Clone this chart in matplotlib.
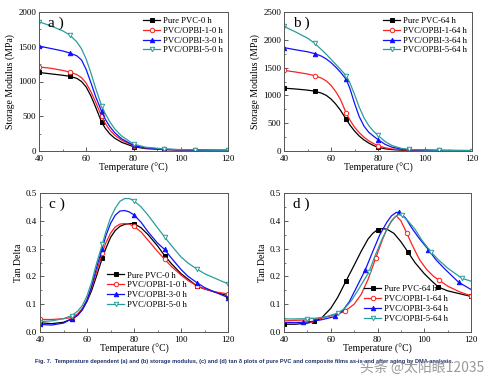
import matplotlib
matplotlib.use("Agg")
import matplotlib.pyplot as plt
from matplotlib.ticker import MultipleLocator

plt.rcParams['font.family'] = ['Liberation Serif', 'DejaVu Serif']
plt.rcParams['mathtext.fontset'] = 'stix'

# ---------------- data ----------------
# Panel a: storage modulus, 0 h
T_a = [40, 45, 50, 53, 56, 58, 60, 62, 64, 66.5, 68, 70, 72, 75, 80, 85, 93, 100, 106, 113, 120]
a_pure = [1130, 1110, 1090, 1075, 1045, 1000, 920, 790, 630, 415, 330, 245, 185, 125, 62, 35, 20, 14, 11, 9, 8]
a_1 = [1210, 1190, 1160, 1135, 1100, 1055, 975, 850, 700, 500, 400, 300, 230, 155, 75, 42, 24, 16, 12, 10, 9]
a_3 = [1510, 1475, 1440, 1410, 1370, 1310, 1170, 980, 780, 570, 460, 350, 265, 175, 82, 45, 25, 17, 13, 10, 9]
a_5 = [1860, 1800, 1730, 1670, 1570, 1470, 1320, 1120, 900, 650, 540, 420, 320, 215, 100, 55, 30, 20, 15, 12, 10]
a_mark_T = [40, 53, 66.5, 80, 93, 106, 120]

# Panel b: storage modulus, 64 h
T_b = [40, 45, 50, 53, 56, 58, 60, 62, 64, 66.5, 68, 70, 72, 74, 76, 78, 80, 83, 86, 90, 93, 100, 106, 113, 120]
b_pure = [1130, 1115, 1095, 1076, 1040, 1000, 935, 845, 735, 568, 470, 360, 270, 200, 145, 100, 66, 40, 25, 15, 12, 8, 6, 5, 5]
b_1 = [1450, 1420, 1385, 1355, 1310, 1260, 1180, 1070, 930, 680, 560, 430, 330, 250, 185, 135, 96, 58, 36, 22, 18, 12, 9, 7, 6]
b_3 = [1860, 1820, 1785, 1752, 1705, 1655, 1590, 1510, 1420, 1286, 1130, 860, 620, 450, 340, 270, 205, 120, 68, 36, 25, 16, 12, 9, 8]
b_5 = [2240, 2140, 2030, 1940, 1820, 1740, 1650, 1560, 1470, 1351, 1230, 1020, 790, 600, 460, 360, 280, 170, 98, 46, 28, 18, 13, 10, 8]
b_mark_T = [40, 53, 66.5, 80, 93, 106, 120]

# Panel c: tan delta, 0 h
T_c = [40, 45, 50, 53.5, 56, 58, 60, 62, 64, 66.5, 68, 70, 72, 74, 76, 78, 80, 83, 86, 90, 93, 96, 100, 103, 107, 110, 114, 120]
c_pure = [0.033, 0.030, 0.035, 0.047, 0.06, 0.08, 0.11, 0.15, 0.20, 0.266, 0.30, 0.34, 0.365, 0.38, 0.387, 0.39, 0.39, 0.375, 0.35, 0.31, 0.275, 0.245, 0.21, 0.19, 0.164, 0.155, 0.145, 0.13]
c_1 = [0.045, 0.045, 0.048, 0.052, 0.065, 0.085, 0.115, 0.16, 0.215, 0.285, 0.32, 0.355, 0.378, 0.388, 0.39, 0.388, 0.38, 0.36, 0.33, 0.29, 0.262, 0.235, 0.205, 0.185, 0.165, 0.155, 0.145, 0.137]
c_3 = [0.027, 0.025, 0.032, 0.047, 0.06, 0.08, 0.115, 0.165, 0.23, 0.30, 0.345, 0.39, 0.42, 0.435, 0.437, 0.432, 0.421, 0.395, 0.36, 0.32, 0.297, 0.265, 0.225, 0.2, 0.176, 0.16, 0.145, 0.124]
c_5 = [0.037, 0.04, 0.048, 0.059, 0.075, 0.095, 0.13, 0.18, 0.245, 0.315, 0.36, 0.41, 0.445, 0.47, 0.48, 0.48, 0.472, 0.45, 0.42, 0.375, 0.342, 0.31, 0.27, 0.248, 0.225, 0.21, 0.195, 0.173]
c_mark_T = [40, 53.5, 66.5, 80, 93, 107, 120]

# Panel d: tan delta, 64 h
Td_pure = [40, 45, 50, 53, 56, 60, 63, 66.5, 70, 73, 76, 78, 80, 82, 84, 87, 90, 93, 96, 100, 103, 106, 110, 115, 120]
d_pure = [0.028, 0.028, 0.032, 0.038, 0.05, 0.085, 0.125, 0.183, 0.24, 0.29, 0.335, 0.355, 0.368, 0.372, 0.37, 0.355, 0.325, 0.288, 0.25, 0.21, 0.185, 0.162, 0.148, 0.138, 0.128]
dm_pure = [40, 53, 66.5, 80, 93, 106, 120]
Td_1 = [40, 45, 51.6, 56, 60, 63, 65.9, 70, 73, 76, 79.3, 82, 84, 86, 88, 90, 92.5, 95, 98, 101, 104, 106.1, 110, 115, 120]
d_1 = [0.04, 0.042, 0.044, 0.05, 0.058, 0.065, 0.074, 0.1, 0.135, 0.19, 0.267, 0.33, 0.37, 0.40, 0.418, 0.40, 0.356, 0.31, 0.26, 0.225, 0.2, 0.188, 0.165, 0.145, 0.13]
dm_1 = [51.6, 65.9, 79.3, 92.5, 106.1, 120]
Td_3 = [40, 44, 48.3, 52, 56, 59, 61.9, 65, 68, 71, 74.8, 78, 81, 84, 86, 88, 89.4, 92, 95, 98, 101.8, 105, 109, 114.7, 120]
d_3 = [0.034, 0.034, 0.035, 0.038, 0.044, 0.05, 0.056, 0.075, 0.11, 0.16, 0.224, 0.29, 0.35, 0.395, 0.418, 0.43, 0.43, 0.41, 0.37, 0.335, 0.296, 0.26, 0.225, 0.179, 0.153]
dm_3 = [48.3, 61.9, 74.8, 89.4, 101.8, 114.7]
Td_5 = [40, 45, 49.7, 54, 58, 63, 66, 69, 72, 76.3, 79, 82, 85, 87, 89, 90.4, 93, 96, 99, 102.8, 106, 110, 116.1, 120]
d_5 = [0.047, 0.047, 0.048, 0.05, 0.055, 0.068, 0.085, 0.115, 0.155, 0.215, 0.275, 0.335, 0.385, 0.41, 0.423, 0.42, 0.4, 0.37, 0.33, 0.289, 0.26, 0.23, 0.193, 0.183]
dm_5 = [49.7, 63, 76.3, 90.4, 102.8, 116.1]

labels_0 = ['Pure PVC-0 h', 'PVC/OPBI-1-0 h', 'PVC/OPBI-3-0 h', 'PVC/OPBI-5-0 h']
labels_64 = ['Pure PVC-64 h', 'PVC/OPBI-1-64 h', 'PVC/OPBI-3-64 h', 'PVC/OPBI-5-64 h']
x_ticks = [40, 60, 80, 100, 120]

caption = ("Fig. 7.  Temperature dependent (a) and (b) storage modulus, (c) and (d) tan \u03b4 plots of "
           "pure PVC and composite films as-is and after aging by DMA analysis.")
watermark = "头条 @太阳眼12035"

# ---------------- styles ----------------
colors = ['#000000', '#ff2020', '#1010ff', '#2a9d9a']
markers = ['s', 'o', '^', 'v']
filled = [True, False, True, False]

W, H = 496, 385
fig = plt.figure(figsize=(W / 100, H / 100), dpi=100)


def box(l, t, r, b):
    return [l / W, 1 - b / H, (r - l) / W, (b - t) / H]


def idx(Ts, marks):
    return [min(range(len(Ts)), key=lambda i: abs(Ts[i] - m)) for m in marks]


def draw(ax, series, labels, ylim, ystep, ylabel, tag, legend_kw):
    for k, (Ts, Vs, mT) in enumerate(series):
        ax.plot(Ts, Vs, color=colors[k], lw=0.9, marker=markers[k], ms=3.2,
                mfc=colors[k] if filled[k] else 'white', mec=colors[k], mew=0.7,
                markevery=idx(Ts, mT), label=labels[k])
    ax.set_xlim(40, 120)
    ax.set_ylim(*ylim)
    ax.set_xticks(x_ticks)
    ax.yaxis.set_major_locator(MultipleLocator(ystep))
    ax.xaxis.set_minor_locator(MultipleLocator(10))
    ax.yaxis.set_minor_locator(MultipleLocator(ystep / 2))
    ax.tick_params(which='both', direction='in', labelsize=6.5, color='#444444')
    ax.tick_params(axis='x', pad=3)
    ax.tick_params(axis='y', pad=2)
    ax.tick_params(which='major', length=3, width=0.6)
    ax.tick_params(which='minor', length=1.6, width=0.5)
    for s in ax.spines.values():
        s.set_linewidth(0.7)
        s.set_color('#555555')
    ax.set_xlabel('Temperature (\u00b0C)', fontsize=7, labelpad=0)
    ax.set_ylabel(ylabel, fontsize=7, labelpad=2)
    ax.text(0.05, 0.97, tag, transform=ax.transAxes, fontsize=11, va='top', ha='left')
    leg = ax.legend(frameon=False, fontsize=6.2, handlelength=2.0, handletextpad=0.3,
                    labelspacing=0.2, borderaxespad=0.2, **legend_kw)
    return leg


ax_a = fig.add_axes(box(39, 12, 228, 151))
draw(ax_a, [(T_a, a_pure, a_mark_T), (T_a, a_1, a_mark_T), (T_a, a_3, a_mark_T), (T_a, a_5, a_mark_T)],
     labels_0, (0, 2000), 500, 'Storage Modulus (MPa)', 'a )', dict(loc='upper right'))

ax_b = fig.add_axes(box(284, 12, 472, 151))
draw(ax_b, [(T_b, b_pure, b_mark_T), (T_b, b_1, b_mark_T), (T_b, b_3, b_mark_T), (T_b, b_5, b_mark_T)],
     labels_64, (0, 2500), 500, 'Storage Modulus (MPa)', 'b )', dict(loc='upper right'))

ax_c = fig.add_axes(box(40, 193, 228, 332))
draw(ax_c, [(T_c, c_pure, c_mark_T), (T_c, c_1, c_mark_T), (T_c, c_3, c_mark_T), (T_c, c_5, c_mark_T)],
     labels_0, (0, 0.5), 0.1, 'Tan Delta', 'c )', dict(loc='lower left', bbox_to_anchor=(0.33, 0.13)))

ax_d = fig.add_axes(box(284, 193, 471, 332))
draw(ax_d, [(Td_pure, d_pure, dm_pure), (Td_1, d_1, dm_1), (Td_3, d_3, dm_3), (Td_5, d_5, dm_5)],
     labels_64, (0, 0.5), 0.1, 'Tan Delta', 'd )', dict(loc='lower left', bbox_to_anchor=(0.4, 0.03)))

fig.text(35 / W, 1 - 362 / H, caption, fontsize=4.1, color='#1f2f6a', fontweight='bold',
         va='center', ha='left', family=['Liberation Sans', 'DejaVu Sans'])
fig.text(484 / W, 1 - 368 / H, watermark, fontsize=10, color='#888888', alpha=0.85,
         va='center', ha='right', family=['Noto Sans CJK SC', 'DejaVu Sans'])

fig.savefig('out.png', dpi=100, facecolor='white')
